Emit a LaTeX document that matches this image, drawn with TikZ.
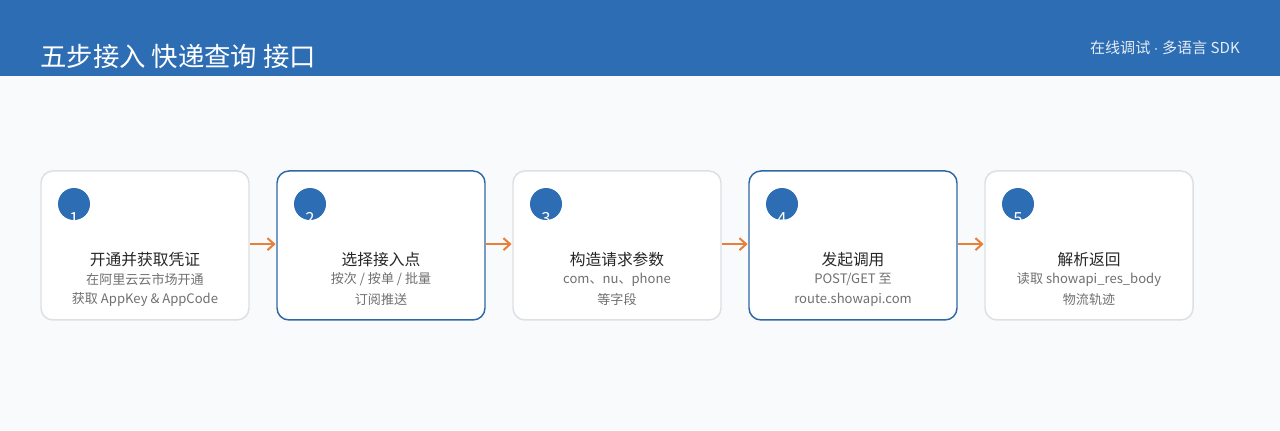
\documentclass[tikz,border=0pt]{standalone}
\usepackage{fontspec}
\setmainfont{Noto Sans CJK SC}
\newfontfamily\dotfont{Liberation Sans}
\usetikzlibrary{positioning,arrows.meta}

\definecolor{headblue}{HTML}{2D6DB3}
\definecolor{pagebg}{HTML}{F8FAFC}
\definecolor{cardgrey}{HTML}{DCE0E4}
\definecolor{cardblue}{HTML}{2F68A5}
\definecolor{steporange}{HTML}{E8803A}
\definecolor{subgrey}{HTML}{707070}

\tikzstyle{card} = [draw=cardgrey, fill=white, line width=1.1pt, rounded corners=9pt, minimum width=156pt, minimum height=111.75pt, node distance=177pt]
\tikzstyle{card-hl} = [card, draw=cardblue]
\tikzstyle{badge} = [circle, fill=headblue, minimum size=24pt, inner sep=0pt]
\tikzstyle{badge-num} = [text=white, font=\fontsize{12.5pt}{12.5pt}\selectfont, inner sep=0pt]
\tikzstyle{step-title} = [text=black!85, font=\fontsize{11.8pt}{13pt}\selectfont, inner sep=0pt]
\tikzstyle{step-sub} = [text=subgrey, font=\fontsize{9.8pt}{11pt}\selectfont, inner sep=0pt]
\tikzstyle{flow} = [draw=steporange, line width=1.5pt, -{Straight Barb[length=5pt,width=9pt]}]

\begin{document}
\begin{tikzpicture}

	% page and header band
	\fill[pagebg] (0,0) rectangle (960pt,-322.5pt);
	\fill[headblue] (0,0) rectangle (960pt,-57pt);
	\useasboundingbox (0,0) rectangle (960pt,-322.5pt);
	\node[anchor=west, text=white, font=\fontsize{19.8pt}{22pt}\selectfont, inner sep=0pt] (title) at (30pt,-42pt) {五步接入 快递查询 接口};
	\node[anchor=east, text=white!88!headblue, font=\fontsize{11.3pt}{13pt}\selectfont, inner sep=0pt] (tag) at (930pt,-36pt) {在线调试 {\dotfont ·} 多语言 SDK};

	% the five step cards
	\node[card] (s1) at (108.75pt,-184.1pt) {};
	\node[card-hl, right of=s1] (s2) {};
	\node[card, right of=s2] (s3) {};
	\node[card-hl, right of=s3] (s4) {};
	\node[card, right of=s4] (s5) {};

	\foreach \i in {1,...,5}{%
		\node[badge] (b\i) at ([xshift=-53.25pt, yshift=31.1pt]s\i.center) {};
		\node[badge-num] (n\i) at ([yshift=-11pt]b\i.center) {\i};}

	\node[step-title] (t1) at ([yshift=-10.5pt]s1.center) {开通并获取凭证};
	\node[step-sub] (d1a) at ([yshift=-25.5pt]s1.center) {在阿里云云市场开通};
	\node[step-sub] (d1b) at ([yshift=-40.5pt]s1.center) {获取 AppKey \& AppCode};

	\node[step-title] (t2) at ([yshift=-10.5pt]s2.center) {选择接入点};
	\node[step-sub] (d2a) at ([yshift=-25.5pt]s2.center) {按次 / 按单 / 批量};
	\node[step-sub] (d2b) at ([yshift=-40.5pt]s2.center) {订阅推送};

	\node[step-title] (t3) at ([yshift=-10.5pt]s3.center) {构造请求参数};
	\node[step-sub] (d3a) at ([yshift=-25.5pt]s3.center) {com、nu、phone};
	\node[step-sub] (d3b) at ([yshift=-40.5pt]s3.center) {等字段};

	\node[step-title] (t4) at ([yshift=-10.5pt]s4.center) {发起调用};
	\node[step-sub] (d4a) at ([yshift=-25.5pt]s4.center) {POST/GET 至};
	\node[step-sub] (d4b) at ([yshift=-40.5pt]s4.center) {route.showapi.com};

	\node[step-title] (t5) at ([yshift=-10.5pt]s5.center) {解析返回};
	\node[step-sub] (d5a) at ([yshift=-25.5pt]s5.center) {读取 showapi\_res\_body};
	\node[step-sub] (d5b) at ([yshift=-40.5pt]s5.center) {物流轨迹};

	% arrows between cards
	\foreach \i/\j in {1/2,2/3,3/4,4/5}{%
		\draw[flow] ([xshift=0.5pt, yshift=1pt]s\i.east) -- ([xshift=-0.5pt, yshift=1pt]s\j.west);}

\end{tikzpicture}
\end{document}
